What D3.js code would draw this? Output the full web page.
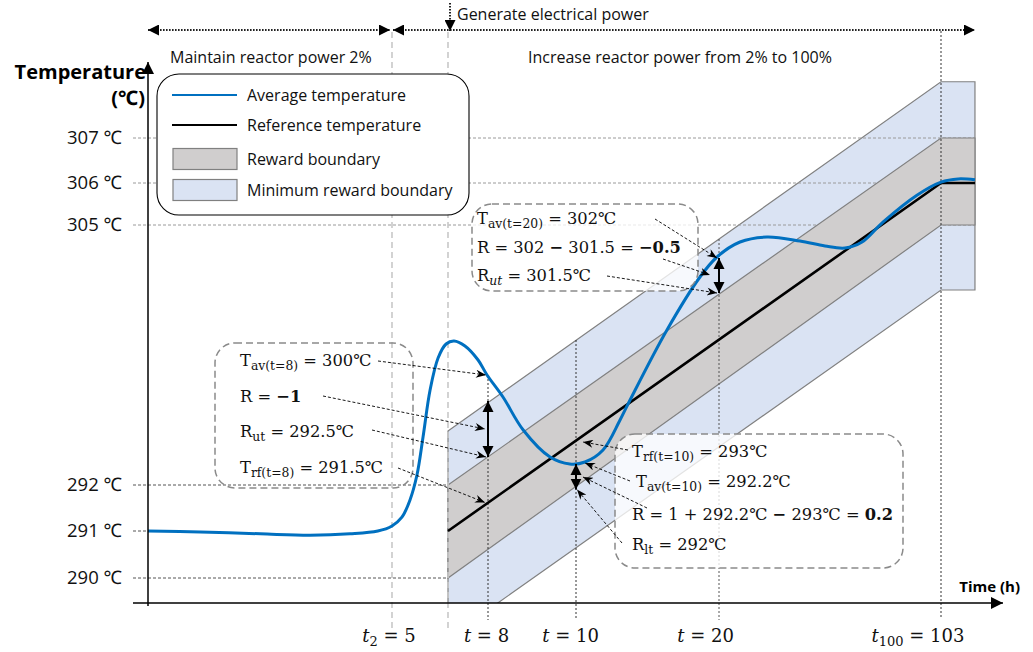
<!DOCTYPE html>
<html><head><meta charset="utf-8">
<script src="https://cdn.jsdelivr.net/npm/d3@7"></script>
<style>body{margin:0;background:#fff} text{white-space:pre}</style>
</head><body>
<script>
// ================= DATA =================
const yTickValues = [290, 291, 292, 305, 306, 307];
const yTickLabels = ['290 ℃', '291 ℃', '292 ℃', '305 ℃', '306 ℃', '307 ℃'];
const xTickValues = [5, 8, 10, 20, 103];
const xTickLabels = [['t', '2', ' = 5'], ['t', '', ' = 8'], ['t', '', ' = 10'], ['t', '', ' = 20'], ['t', '100', ' = 103']];
const tGen = 6.75;      // generate electrical power
const tTail = 115.7;    // right end of drawn boundaries
const boundTimes = [6.75, 103, 115.7];
const refTemps = [291, 306, 306];
const rewardUpper = [292, 307, 307];
const rewardLower = [290, 305, 305];
const minRewardUpper = [294.7, 308.25, 308.25];
const minRewardLower = [288.72, 301.75, 301.75];
const avgTimes = [0, 1.07, 2.3, 3.32, 4.14, 4.71, 5, 5.31, 5.56, 5.78, 5.97, 6.19, 6.44, 6.69, 6.94, 7.28, 7.69, 7.97, 8.34, 8.8, 9.41, 9.86, 10.63, 11.89, 13.08, 13.78, 16.36, 18.67, 19.86, 27.85, 37.94, 50.28, 59.63, 67.1, 73.5, 81.3, 94.0, 103, 109.4, 115.7];
const avgTemps = [291, 290.98, 290.94, 290.91, 290.94, 291, 291.11, 291.3, 291.67, 292.5, 294.4, 296.75, 298.35, 299.05, 299.2, 298.95, 298.25, 297.5, 296.4, 294.75, 293.4, 293.05, 293.15, 293.75, 295.25, 296.25, 299.75, 302.4, 303.4, 304.15, 304.4, 304.2, 303.95, 303.85, 304.15, 305.07, 305.71, 306.02, 306.09, 306.07];
// double-headed reward arrows: time, top temp, bottom temp
const rewardArrowTimes = [8, 10, 20];
const rewardArrowTop = [296.2, 293.05, 303.35];
const rewardArrowBottom = [293.4, 291.9, 301.6];
// dotted time markers: time, top temp
const markerTimes = [8, 10, 20];
const markerTopTemps = [297.5, 299.25, 304.3];

// ================= SETUP =================
const W = 1033, H = 652;
const serif = "'DejaVu Serif','Liberation Serif',serif";
const sans = "'Open Sans','Noto Sans',sans-serif";
const svg = d3.select('body').append('svg').attr('width', W).attr('height', H);

const x = d3.scaleLinear().domain([0, 5, 8, 10, 20, 103]).range([148, 392, 488, 576, 719, 941]);
const y = d3.scaleLinear().domain([290, 291, 292, 305, 306, 307]).range([578, 531, 485, 225, 183, 138]);
const axisY = 603, axisX = 148;

const defs = svg.append('defs');
function tri(id, w, h) {
  defs.append('marker').attr('id', id).attr('viewBox', '0 0 10 10').attr('refX', 10).attr('refY', 5)
    .attr('markerWidth', w).attr('markerHeight', h).attr('markerUnits', 'userSpaceOnUse')
    .attr('orient', 'auto-start-reverse')
    .append('path').attr('d', 'M0,0 L10,5 L0,10 Z').attr('fill', '#000');
}
tri('axisArrow', 16, 12);
tri('topArrow', 13, 11);
tri('dblArrow', 11, 13);
defs.append('marker').attr('id', 'ptr').attr('viewBox', '0 0 10 8').attr('refX', 10).attr('refY', 4)
  .attr('markerWidth', 11).attr('markerHeight', 8).attr('markerUnits', 'userSpaceOnUse').attr('orient', 'auto')
  .append('path').attr('d', 'M0,0 L10,4 L0,8 L3,4 Z').attr('fill', '#000');
defs.append('clipPath').attr('id', 'plotClip').append('rect').attr('x', 0).attr('y', 0).attr('width', W).attr('height', axisY);

const idx = d3.range(boundTimes.length);
const bandPath = (upper, lower) => {
  const pts = idx.map(i => [x(boundTimes[i]), y(upper[i])]).concat(idx.slice().reverse().map(i => [x(boundTimes[i]), y(lower[i])]));
  return d3.line()(pts) + 'Z';
};

// ================= MIN REWARD BAND =================
svg.append('path').attr('d', bandPath(minRewardUpper, minRewardLower))
  .attr('fill', '#DAE3F3').attr('stroke', '#808080').attr('stroke-width', 1.2).attr('clip-path', 'url(#plotClip)');

// ================= GRID (horizontal) =================
const gridEnds = { 290: tGen, 291: 0, 292: tGen, 305: tTail, 306: tTail, 307: tTail };
svg.append('g').selectAll('line').data(yTickValues).join('line')
  .attr('x1', 133).attr('x2', d => x(gridEnds[d]))
  .attr('y1', d => y(d)).attr('y2', d => y(d))
  .attr('stroke', d => d < 300 ? '#555' : '#9a9a9a').attr('stroke-width', 1).attr('stroke-dasharray', '3,2');

// ================= REWARD BAND =================
svg.append('path').attr('d', bandPath(rewardUpper, rewardLower))
  .attr('fill', '#D0CECE').attr('stroke', '#808080').attr('stroke-width', 1.2);

// ================= VERTICAL LINES =================
[5, tGen].forEach(t => {
  svg.append('line').attr('x1', x(t)).attr('x2', x(t)).attr('y1', 32).attr('y2', 630)
    .attr('stroke', '#c8c8c8').attr('stroke-width', 1.6).attr('stroke-dasharray', '6,4');
});
svg.append('line').attr('x1', x(103)).attr('x2', x(103)).attr('y1', 31).attr('y2', 618)
  .attr('stroke', '#333').attr('stroke-width', 1).attr('stroke-dasharray', '2,2');
markerTimes.forEach((t, i) => {
  svg.append('line').attr('x1', x(t)).attr('x2', x(t)).attr('y1', y(markerTopTemps[i])).attr('y2', 620)
    .attr('stroke', i === 2 ? '#555' : '#333').attr('stroke-width', 1).attr('stroke-dasharray', '2,2');
});

// ================= REFERENCE & AVERAGE =================
svg.append('path').datum(idx).attr('d', d3.line().x(i => x(boundTimes[i])).y(i => y(refTemps[i])))
  .attr('fill', 'none').attr('stroke', '#000').attr('stroke-width', 2.6);
svg.append('path').datum(d3.range(avgTimes.length))
  .attr('d', d3.line().x(i => x(avgTimes[i])).y(i => y(avgTemps[i])).curve(d3.curveCatmullRom.alpha(0.5)))
  .attr('fill', 'none').attr('stroke', '#0070C0').attr('stroke-width', 3);

// ================= DOUBLE ARROWS =================
rewardArrowTimes.forEach((t, i) => {
  svg.append('line').attr('x1', x(t)).attr('x2', x(t))
    .attr('y1', y(rewardArrowTop[i])).attr('y2', y(rewardArrowBottom[i]))
    .attr('stroke', '#000').attr('stroke-width', 2)
    .attr('marker-start', 'url(#dblArrow)').attr('marker-end', 'url(#dblArrow)');
});

// ================= ANNOTATION BOXES =================
const boxes = [
  { x: 215, y: 343, w: 198, h: 145, fill: 'none' },
  { x: 472, y: 204, w: 226, h: 87, fill: 'rgba(255,255,255,0.78)' },
  { x: 615, y: 434, w: 288, h: 134, fill: 'rgba(255,255,255,0.78)' }
];
svg.append('g').selectAll('rect').data(boxes).join('rect')
  .attr('x', d => d.x).attr('y', d => d.y).attr('width', d => d.w).attr('height', d => d.h)
  .attr('rx', 20).attr('ry', 20).attr('fill', d => d.fill)
  .attr('stroke', '#8a8a8a').attr('stroke-width', 1.5).attr('stroke-dasharray', '7,4');

function rich(x0, y0, parts, size) {
  const t = svg.append('text').attr('x', x0).attr('y', y0).attr('font-family', serif).attr('font-size', size).attr('fill', '#111');
  let shifted = 0;
  parts.forEach(p => {
    const s = typeof p === 'string' ? { s: p } : p;
    const ts = t.append('tspan').text(s.s);
    const want = s.sub ? 4 : 0;
    if (want !== shifted) { ts.attr('dy', want - shifted); shifted = want; }
    if (s.sub) ts.attr('font-size', size * 0.76);
    if (s.b) ts.attr('font-weight', 'bold');
    if (s.i) ts.attr('font-style', 'italic');
  });
  return t;
}
const fs = 16.3;
// box 1
rich(240, 366, ['T', { s: 'av(t=8)', sub: 1 }, ' = 300℃'], fs);
rich(240, 402, ['R = ', { s: '−1', b: 1 }], fs);
rich(240, 437, ['R', { s: 'ut', sub: 1 }, ' = 292.5℃'], fs);
rich(240, 473, ['T', { s: 'rf(t=8)', sub: 1 }, ' = 291.5℃'], fs);
// box 2
rich(477, 224, ['T', { s: 'av(t=20)', sub: 1 }, ' = 302℃'], fs);
rich(477, 253, ['R = 302 ', { s: '−', b: 1 }, ' 301.5 = ', { s: '−0.5', b: 1 }], fs);
rich(477, 281, ['R', { s: 'ut', sub: 1, i: 1 }, ' = 301.5℃'], fs);
// box 3
rich(632, 457, ['T', { s: 'rf(t=10)', sub: 1 }, ' = 293℃'], fs);
rich(636, 487, ['T', { s: 'av(t=10)', sub: 1 }, ' = 292.2℃'], fs);
rich(632, 520, ['R = 1 + 292.2℃ ', { s: '−', b: 1 }, ' 293℃ = ', { s: '0.2', b: 1 }], fs);
rich(632, 550, ['R', { s: 'lt', sub: 1 }, ' = 292℃'], fs);

// pointers: start (layout px) -> data target
const pointers = [
  { from: [378, 361], t: 8, T: 297.5, dx: -2 },
  { from: [323, 396], t: 8, T: 294.8, dx: -3 },
  { from: [372, 430], t: 8, T: 293.4, dx: -2 },
  { from: [398, 468], t: 8, T: 291.62, dx: -3 },
  { from: [655, 219], t: 20, T: 303.35, dx: -2 },
  { from: [663, 259], t: 20, T: 302.5, dx: -9 },
  { from: [607, 276], t: 20, T: 301.6, dx: -2 },
  { from: [628, 450], t: 10, T: 294.15, dx: 7 },
  { from: [630, 481], t: 10, T: 293.1, dx: 9 },
  { from: [647, 508], t: 10, T: 292.4, dx: 7 },
  { from: [622, 543], t: 10, T: 291.9, dx: 1 }
];
svg.append('g').selectAll('line').data(pointers).join('line')
  .attr('x1', d => d.from[0]).attr('y1', d => d.from[1])
  .attr('x2', d => x(d.t) + d.dx).attr('y2', d => y(d.T))
  .attr('stroke', '#000').attr('stroke-width', 0.9).attr('stroke-dasharray', '3,2')
  .attr('marker-end', 'url(#ptr)');

// ================= LEGEND =================
const lg = svg.append('g');
lg.append('rect').attr('x', 157).attr('y', 74).attr('width', 312).attr('height', 141).attr('rx', 22)
  .attr('fill', '#fff').attr('stroke', '#000').attr('stroke-width', 1.1);
const legendItems = ['Average temperature', 'Reference temperature', 'Reward boundary', 'Minimum reward boundary'];
const legendY = [95, 125, 159, 190];
legendItems.forEach((name, i) => {
  if (i === 0) lg.append('line').attr('x1', 172).attr('x2', 237).attr('y1', legendY[i]).attr('y2', legendY[i]).attr('stroke', '#0070C0').attr('stroke-width', 2.2);
  if (i === 1) lg.append('line').attr('x1', 172).attr('x2', 237).attr('y1', legendY[i]).attr('y2', legendY[i]).attr('stroke', '#000').attr('stroke-width', 2.2);
  if (i >= 2) lg.append('rect').attr('x', 173).attr('y', legendY[i] - 10.5).attr('width', 64).attr('height', 21)
    .attr('fill', i === 2 ? '#D0CECE' : '#DAE3F3').attr('stroke', '#808080').attr('stroke-width', 1.2);
  lg.append('text').attr('x', 247).attr('y', legendY[i]).attr('dy', '0.35em').attr('font-family', sans)
    .attr('font-size', 16).attr('fill', '#111').text(name);
});

// ================= AXES =================
const yAxis = d3.axisLeft(y).tickValues(yTickValues).tickFormat((d, i) => yTickLabels[i]).tickSize(0).tickPadding(26);
const yg = svg.append('g').attr('transform', `translate(${axisX},0)`).call(yAxis);
yg.select('.domain').remove();
yg.selectAll('text').attr('font-family', sans).attr('font-size', 18.5).attr('fill', '#111');
svg.append('line').attr('x1', axisX).attr('x2', axisX).attr('y1', 606).attr('y2', 62)
  .attr('stroke', '#000').attr('stroke-width', 1.5).attr('marker-end', 'url(#axisArrow)');
svg.append('line').attr('x1', 133).attr('x2', 1003).attr('y1', axisY).attr('y2', axisY)
  .attr('stroke', '#000').attr('stroke-width', 1.5).attr('marker-end', 'url(#axisArrow)');

const xLabelShift = [-3.5, -2, -6, -14, -23.5];
const xAxis = d3.axisBottom(x).tickValues(xTickValues).tickSize(0).tickFormat('');
const xg = svg.append('g').attr('transform', `translate(0,${axisY})`).call(xAxis);
xg.select('.domain').remove();
xg.selectAll('.tick').each(function (d, i) {
  const parts = xTickLabels[i];
  const t = d3.select(this).append('text').attr('x', xLabelShift[i]).attr('y', 39).attr('text-anchor', 'middle')
    .attr('font-family', serif).attr('font-size', 18).attr('fill', '#111');
  t.append('tspan').attr('font-style', 'italic').text(parts[0]);
  if (parts[1]) t.append('tspan').attr('font-size', 13).attr('dy', 4).text(parts[1]);
  t.append('tspan').attr('dy', parts[1] ? -4 : 0).text(parts[2]);
});

svg.append('text').attr('x', 146).attr('y', 72).attr('dy', '0.35em').attr('text-anchor', 'end')
  .attr('font-family', sans).attr('font-weight', 'bold').attr('font-size', 20).attr('fill', '#000').text('Temperature');
svg.append('text').attr('x', 145).attr('y', 98).attr('dy', '0.35em').attr('text-anchor', 'end')
  .attr('font-family', sans).attr('font-weight', 'bold').attr('font-size', 20).attr('fill', '#000').text('(℃)');
svg.append('text').attr('x', 1020).attr('y', 587).attr('dy', '0.35em').attr('text-anchor', 'end')
  .attr('font-family', sans).attr('font-weight', 'bold').attr('font-size', 15).attr('fill', '#000').text('Time (h)');

// ================= TOP PHASE ARROWS =================
const topY = 30;
[[148, 390], [393, 975]].forEach(([a, b]) => {
  svg.append('line').attr('x1', a).attr('x2', b).attr('y1', topY).attr('y2', topY)
    .attr('stroke', '#222').attr('stroke-width', 2).attr('stroke-dasharray', '1.6,1.4')
    .attr('marker-start', 'url(#topArrow)').attr('marker-end', 'url(#topArrow)');
});
svg.append('line').attr('x1', x(tGen) + 2).attr('x2', x(tGen) + 2).attr('y1', 3).attr('y2', 31)
  .attr('stroke', '#222').attr('stroke-width', 2).attr('stroke-dasharray', '1.6,1.4').attr('marker-end', 'url(#topArrow)');
svg.append('text').attr('x', 457).attr('y', 14).attr('dy', '0.35em').attr('font-family', sans).attr('font-size', 16).attr('fill', '#111').text('Generate electrical power');
svg.append('text').attr('x', 170).attr('y', 57).attr('dy', '0.35em').attr('font-family', sans).attr('font-size', 16).attr('fill', '#111').text('Maintain reactor power 2%');
svg.append('text').attr('x', 528).attr('y', 57).attr('dy', '0.35em').attr('font-family', sans).attr('font-size', 16).attr('fill', '#111').text('Increase reactor power from 2% to 100%');
</script>
</body></html>
